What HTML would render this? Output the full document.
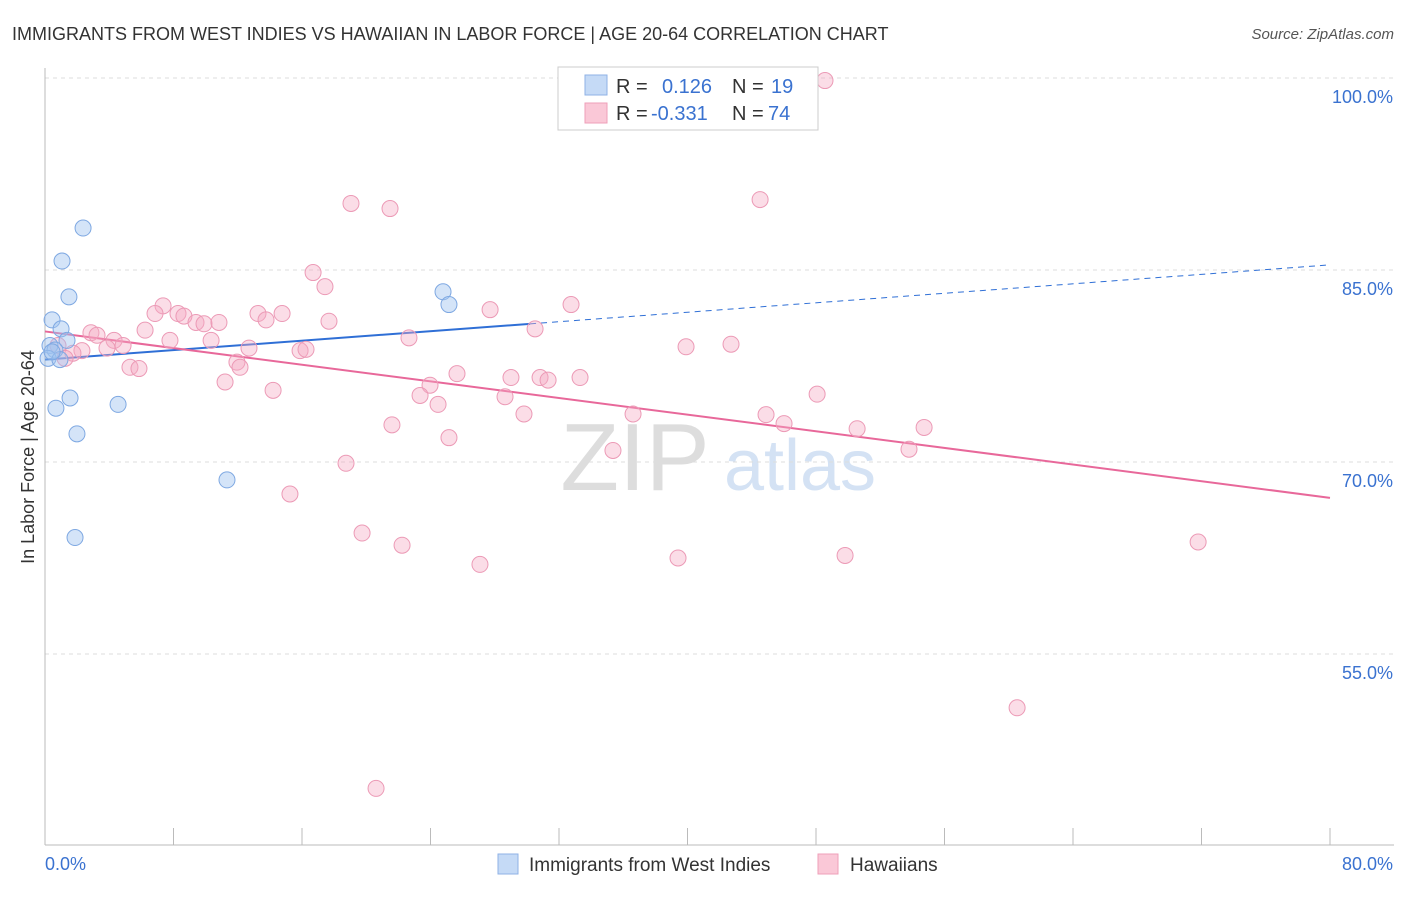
<!DOCTYPE html>
<html><head><meta charset="utf-8"><style>
body{margin:0;background:#fff;font-family:"Liberation Sans",sans-serif;}
svg text{font-family:"Liberation Sans",sans-serif;}
</style></head><body>
<svg id="chart" width="1406" height="892" xmlns="http://www.w3.org/2000/svg">
<text x="12" y="40" font-size="18" fill="#333">IMMIGRANTS FROM WEST INDIES VS HAWAIIAN IN LABOR FORCE | AGE 20-64 CORRELATION CHART</text>
<text x="1394" y="39" font-size="15" fill="#555" text-anchor="end" font-style="italic">Source: ZipAtlas.com</text>
<text transform="translate(34,457) rotate(-90)" font-size="18" fill="#333" text-anchor="middle">In Labor Force | Age 20-64</text>
<g>
<text x="635" y="490" font-size="96" fill="#ddd" text-anchor="middle" font-family="Liberation Serif,serif">ZIP</text>
<text x="800" y="490" font-size="72" fill="#d4e2f4" text-anchor="middle">atlas</text>
</g>
<g id="grid"></g><g id="axes"></g><g id="lines"></g><g id="points"></g>
<g>
<rect x="558" y="67" width="260" height="63" fill="#fff" stroke="#ccc"/>
<rect x="585" y="75" width="22" height="20" fill="#c5daf6" stroke="#8fb2e6"/>
<text x="616" y="93" font-size="20" fill="#333">R = </text><text x="662" y="93" font-size="20" fill="#3a72d0">0.126</text>
<text x="732" y="93" font-size="20" fill="#333">N = </text><text x="771" y="93" font-size="20" fill="#3a72d0">19</text>
<rect x="585" y="103" width="22" height="20" fill="#fac8d7" stroke="#ef9fb9"/>
<text x="616" y="120" font-size="20" fill="#333">R = </text><text x="651" y="120" font-size="20" fill="#3a72d0">-0.331</text>
<text x="732" y="120" font-size="20" fill="#333">N = </text><text x="768" y="120" font-size="20" fill="#3a72d0">74</text>
</g>
<g>
<rect x="498" y="854" width="20" height="20" fill="#c5daf6" stroke="#8fb2e6"/>
<text x="529" y="871" font-size="19" fill="#333">Immigrants from West Indies</text>
<rect x="818" y="854" width="20" height="20" fill="#fac8d7" stroke="#ef9fb9"/>
<text x="850" y="871" font-size="19" fill="#333">Hawaiians</text>
</g>
</svg>
<script>
const blueX=[2.37,1.06,1.49,0.44,1.0,1.37,0.31,0.62,0.19,0.93,0.68,1.56,1.99,4.55,11.33,1.87,24.78,25.15,0.44];
const blueY=[88.28,85.7,82.9,81.1,80.4,79.5,79.1,78.75,78.1,78.0,74.2,75.0,72.2,74.5,68.6,64.1,83.3,82.3,78.6];
const pinkX=[48.56,44.52,19.05,21.48,16.69,17.43,7.35,6.85,8.28,8.65,9.40,9.90,10.83,13.26,13.76,14.76,17.68,27.71,32.75,30.51,6.23,2.86,3.24,4.30,4.86,7.78,10.34,3.86,2.30,1.74,12.70,15.88,16.25,22.66,39.91,42.71,5.29,5.85,11.95,12.14,11.21,14.20,23.97,23.35,24.47,25.65,29.01,30.82,31.32,33.31,28.64,29.82,36.61,44.89,46.01,48.07,50.56,54.73,53.79,21.60,25.15,35.36,18.74,15.25,19.74,22.23,27.08,39.41,49.81,71.79,60.52,20.61,0.81,1.25];
const pinkY=[99.8,90.5,90.2,89.8,84.8,83.7,82.2,81.6,81.6,81.4,80.9,80.8,80.9,81.6,81.1,81.6,81.0,81.9,82.3,80.4,80.3,80.1,79.9,79.5,79.1,79.5,79.5,78.9,78.7,78.5,78.9,78.7,78.8,79.7,79.0,79.2,77.4,77.3,77.8,77.4,76.25,75.6,76.0,75.2,74.5,76.9,76.6,76.6,76.4,76.6,75.1,73.75,73.75,73.7,73.0,75.3,72.6,72.7,71.0,72.9,71.9,70.9,69.9,67.5,64.45,63.5,62.0,62.5,62.7,63.75,50.8,44.5,79.1,78.1];
const blueTrend=[78.0,85.4]; const blueSolidEnd=30.2;
const pinkTrend=[80.2,67.2];
const yTicks=[100,85,70,55];
const yTickLabels=["100.0%","85.0%","70.0%","55.0%"];
const xTicks=[0,8,16,24,32,40,48,56,64,72,80];

const NS="http://www.w3.org/2000/svg";
const xs=v=>45+v/80*1285;
const ys=v=>78+(100-v)*12.8;
function mk(tag,attrs,parent){const e=document.createElementNS(NS,tag);for(const k in attrs)e.setAttribute(k,attrs[k]);document.getElementById(parent).appendChild(e);return e;}

yTicks.forEach((t,i)=>{
 const l=mk('line',{x1:45,x2:1394,y1:ys(t),y2:ys(t),stroke:'#ddd','stroke-dasharray':'4,4'},'grid');
 
 
 const tx=mk('text',{x:1393,y:ys(t)+25,'font-size':18,fill:'#3a72d0','text-anchor':'end'},'axes');
 tx.textContent=yTickLabels[i];
 
 
});
const ya=mk('line',{x1:45,x2:45,y1:68,y2:845,stroke:'#bbb'},'axes');


const xa=mk('line',{x1:45,x2:1394,y1:845,y2:845,stroke:'#bbb'},'axes');


xTicks.forEach(t=>{
 const l=mk('line',{x1:xs(t),x2:xs(t),y1:828,y2:845,stroke:'#bbb'},'axes');
 
 
});
const xl0=mk('text',{x:45,y:870,'font-size':18,fill:'#3a72d0'},'axes');xl0.textContent='0.0%';


const xl1=mk('text',{x:1393,y:870,'font-size':18,fill:'#3a72d0','text-anchor':'end'},'axes');xl1.textContent='80.0%';



const bAt=x=>blueTrend[0]+(blueTrend[1]-blueTrend[0])*x/80;
const pAt=x=>pinkTrend[0]+(pinkTrend[1]-pinkTrend[0])*x/80;
let l1=mk('line',{x1:xs(0),y1:ys(bAt(0)),x2:xs(blueSolidEnd),y2:ys(bAt(blueSolidEnd)),stroke:'#2f6fd6','stroke-width':2},'lines');


let l2=mk('line',{x1:xs(blueSolidEnd),y1:ys(bAt(blueSolidEnd)),x2:xs(80),y2:ys(bAt(80)),stroke:'#2f6fd6','stroke-width':1,'stroke-dasharray':'6,5'},'lines');


let l3=mk('line',{x1:xs(0),y1:ys(pAt(0)),x2:xs(80),y2:ys(pAt(80)),stroke:'#e8689a','stroke-width':2},'lines');



pinkX.forEach((x,i)=>{
 const c=mk('circle',{cx:xs(x),cy:ys(pinkY[i]),r:8,fill:'rgba(245,170,195,0.4)',stroke:'#ec9ab6','stroke-width':1},'points');
 
 
});
blueX.forEach((x,i)=>{
 const c=mk('circle',{cx:xs(x),cy:ys(blueY[i]),r:8,fill:'rgba(160,195,240,0.45)',stroke:'#7ea8e2','stroke-width':1},'points');
 
 
});
</script>
</body></html>
